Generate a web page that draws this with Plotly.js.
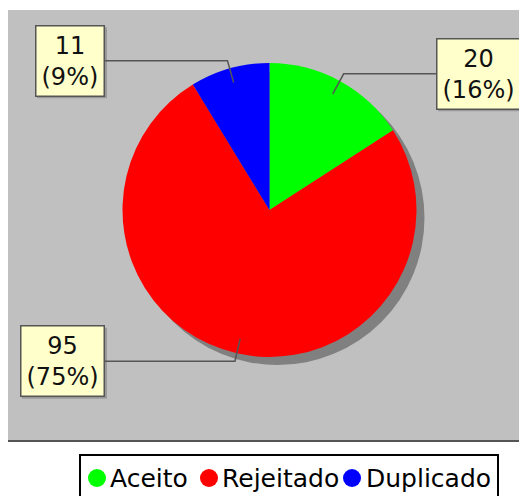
<!DOCTYPE html>
<html><head><meta charset="utf-8">
<script src="https://cdn.plot.ly/plotly-3.0.1.min.js"></script>
<style>html,body{margin:0;padding:0;background:#fff;} #chart{width:519px;height:496px;}</style>
</head><body><div id="chart"></div>
<script>
const categories = ['Aceito', 'Rejeitado', 'Duplicado'];
const values = [20, 95, 11];
const colors = ['#00FF00', '#FF0000', '#0000FF'];

// label-box placement (layout only)
const labelSide = ['left', 'right', 'right'];
const labelBoxX = [436, 105, 105];
const legendDotX = [97, 209, 352];
const legendTextX = [108, 220, 364];

const W = 519, H = 496;
const px = x => x / W, py = y => 1 - y / H;
const cx = 269.5, cy = 210, R = 147;
const total = values.reduce((a, b) => a + b, 0);
const shapes = [], annotations = [];
const LABEL_FONT = 24, PAD = 5, BW = 1.5, BOX_H = 71;
const ctx = document.createElement('canvas').getContext('2d');
ctx.font = LABEL_FONT + 'px "DejaVu Sans"';

shapes.push({type:'rect', xref:'paper', yref:'paper', x0:px(8), x1:px(519), y0:py(440), y1:py(10),
  fillcolor:'#C0C0C0', line:{width:0}, layer:'below'});
shapes.push({type:'line', xref:'paper', yref:'paper', x0:px(8), x1:px(519), y0:py(441), y1:py(441),
  line:{color:'#555555', width:2}, layer:'below'});
shapes.push({type:'circle', xref:'paper', yref:'paper', x0:px(cx-R+8), x1:px(cx+R+8), y0:py(cy+R+8), y1:py(cy-R+8),
  fillcolor:'#808080', line:{width:0}, layer:'below'});

let cum = 0;
values.forEach((v, i) => {
  const mid = (cum + v / 2) / total * 2 * Math.PI; cum += v;
  const sx = Math.sin(mid), sy = -Math.cos(mid);
  const ix = cx + 0.9 * R * sx, iy = cy + 0.9 * R * sy;
  const ex = cx + 1.055 * R * sx, ey = cy + 1.055 * R * sy;
  const bx = labelBoxX[i];
  shapes.push({type:'path', xref:'paper', yref:'paper',
    path:`M${px(ix)},${py(iy)} L${px(ex)},${py(ey)} L${px(bx)},${py(ey)}`,
    line:{color:'#555555', width:1.5}, layer:'above'});
  const pct = Math.round(v / total * 100);
  const l1 = String(v), l2 = `(${pct}%)`;
  const tw = Math.max(ctx.measureText(l1).width, ctx.measureText(l2).width);
  const bw = tw + 2 * PAD + 2 * BW;
  const left = labelSide[i] === 'left' ? bx : bx - bw;
  shapes.push({type:'rect', xref:'paper', yref:'paper', x0:px(left+2), x1:px(left+bw+2),
    y0:py(ey+BOX_H/2+2), y1:py(ey-BOX_H/2+2), fillcolor:'rgba(80,80,80,0.35)', line:{width:0}, layer:'above'});
  annotations.push({xref:'paper', yref:'paper', x:px(bx), y:py(ey), xanchor:labelSide[i], yanchor:'middle',
    text:`${l1}<br>${l2}`, showarrow:false, font:{family:'DejaVu Sans', size:LABEL_FONT, color:'#111111'},
    bgcolor:'#FFFFCC', borderpad:PAD, borderwidth:BW, bordercolor:'#555555'});
});

// legend
shapes.push({type:'rect', xref:'paper', yref:'paper', x0:px(80), x1:px(498), y0:py(505), y1:py(455),
  fillcolor:'#FFFFFF', line:{color:'#000000', width:2}, layer:'above'});
categories.forEach((c, i) => {
  shapes.push({type:'circle', xref:'paper', yref:'paper', x0:px(legendDotX[i]-9), x1:px(legendDotX[i]+9),
    y0:py(478+9), y1:py(478-9), fillcolor:colors[i], line:{width:0}, layer:'above'});
  annotations.push({xref:'paper', yref:'paper', x:px(legendTextX[i]), y:py(478), xanchor:'left', yanchor:'middle',
    text:c, showarrow:false, font:{family:'DejaVu Sans', size:25, color:'#000000'}});
});

const trace = {
  type:'pie', labels:categories, values:values, sort:false, direction:'clockwise', rotation:0,
  marker:{colors:colors, line:{width:0}}, textinfo:'none', hoverinfo:'skip',
  domain:{x:[px(cx-R), px(cx+R)], y:[py(cy+R), py(cy-R)]}
};
const layout = {
  width:W, height:H, margin:{l:0, r:0, t:0, b:0}, paper_bgcolor:'#FFFFFF',
  showlegend:false, shapes:shapes, annotations:annotations
};
Plotly.newPlot('chart', [trace], layout, {displayModeBar:false, staticPlot:true});
</script></body></html>
